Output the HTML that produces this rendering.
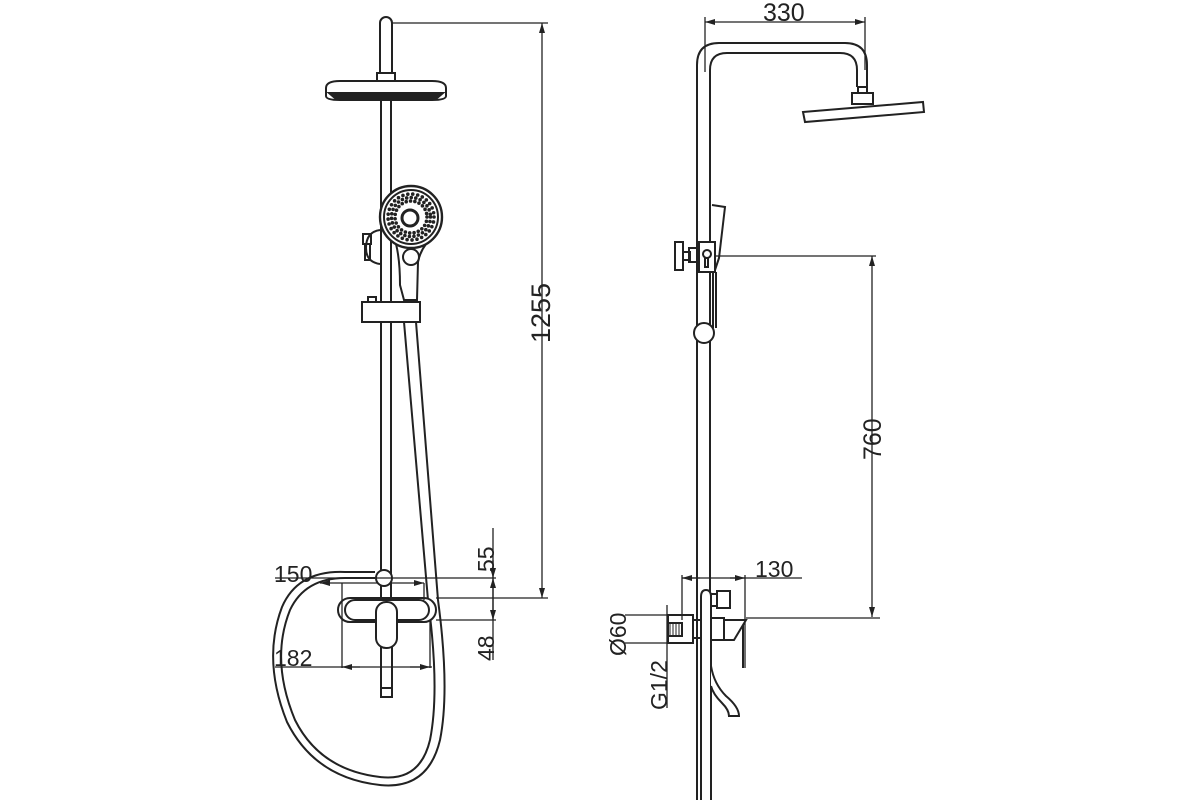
<!DOCTYPE html>
<html><head><style>
html,body{margin:0;padding:0;background:#fff;}
svg{display:block;}
text{font-family:"Liberation Sans",Arial,sans-serif;fill:#222;}
</style></head><body>
<svg width="1200" height="800" viewBox="0 0 1200 800" xmlns="http://www.w3.org/2000/svg">
<defs>
<marker id="a" viewBox="0 0 10 6" refX="10" refY="3" markerWidth="10" markerHeight="6" orient="auto-start-reverse" markerUnits="userSpaceOnUse"><path d="M0,0 L10,3 L0,6 z" fill="#222"/></marker>
</defs>
<g fill="none" stroke="#222" stroke-width="2">
<path d="M380,72 V23 a6,6 0 0 1 12,0 V72" fill="#fff"/>
<rect x="377" y="73" width="18" height="8" fill="#fff"/>
<path d="M326,88 Q326,81 340,81 H432 Q446,81 446,88 V96 Q446,100 432,100 H340 Q326,100 326,96 Z" fill="#fff"/>
<path d="M329,93 H443 L436,99 H336 Z" fill="#222"/>
<line x1="381" y1="100" x2="381" y2="648"/>
<line x1="391" y1="100" x2="391" y2="648"/>
<path d="M380,230 q-14,2 -14,18 q0,14 14,16"/>
<rect x="363" y="234" width="8" height="10"/>
<rect x="365" y="244" width="5" height="16"/>
<path d="M396,244 Q400,260 400,285 L404,300 H417 L418,262 Q420,252 426,244" fill="#fff"/>
<circle cx="411" cy="257" r="8" fill="#fff"/>
<circle cx="411" cy="217" r="31" fill="#fff" stroke-width="2.4"/>
<circle cx="411" cy="217" r="27"/>
<g stroke-width="3.6" stroke-linecap="round">
<circle cx="411" cy="217" r="23" stroke-dasharray="0 5"/>
<circle cx="411" cy="217" r="19.5" stroke-dasharray="0 4.6"/>
<circle cx="411" cy="217" r="16" stroke-dasharray="0 4.4"/>
</g>
<circle cx="410" cy="218" r="8" stroke-width="3"/>
<rect x="362" y="302" width="58" height="20" fill="#fff"/>
<rect x="368" y="297" width="8" height="5"/>
<path d="M404,322 L428,600 Q440,690 430,740 Q420,782 380,777 Q320,770 295,720 Q270,660 290,610 Q305,578 345,578 H375"/>
<path d="M416,322 L438,600 Q450,690 440,740 Q428,790 380,785 Q315,778 287,722 Q262,660 282,607 Q298,570 345,572 H375"/>
<circle cx="384" cy="578" r="8" fill="#fff"/>
<rect x="338" y="598" width="98" height="24" rx="12" fill="#fff"/>
<rect x="345" y="600" width="84" height="20" rx="10"/>
<rect x="381" y="640" width="11" height="57" fill="#fff"/>
<line x1="381" y1="688" x2="392" y2="688"/>
<rect x="376" y="602" width="21" height="46" rx="10" fill="#fff"/>
<g stroke-width="1.3">
<line x1="392" y1="23" x2="548" y2="23"/>
<line x1="542" y1="23" x2="542" y2="598" marker-start="url(#a)" marker-end="url(#a)"/>
<line x1="436" y1="598" x2="548" y2="598"/>
<line x1="275" y1="578" x2="496" y2="578"/>
<line x1="320" y1="583" x2="378" y2="583" marker-start="url(#a)"/>
<line x1="390" y1="583" x2="424" y2="583" marker-end="url(#a)"/>
<line x1="342" y1="583" x2="342" y2="668"/>
<line x1="424" y1="583" x2="424" y2="600"/>
<line x1="430" y1="620" x2="430" y2="668"/>
<line x1="436" y1="620" x2="496" y2="620"/>
<line x1="493" y1="528" x2="493" y2="660"/>
<line x1="493" y1="560" x2="493" y2="578" marker-end="url(#a)"/>
<line x1="493" y1="598" x2="493" y2="578" marker-end="url(#a)"/>
<line x1="493" y1="598" x2="493" y2="620" marker-end="url(#a)"/>
<line x1="275" y1="667" x2="432" y2="667"/>
<line x1="360" y1="667" x2="342" y2="667" marker-end="url(#a)"/>
<line x1="410" y1="667" x2="430" y2="667" marker-end="url(#a)"/>
</g>
<path d="M697,800 V65 Q697,43 719,43 H845 Q867,43 867,65 V87"/>
<path d="M710,800 V70 Q710,53 727,53 H840 Q857,53 857,70 V87"/>
<rect x="858" y="87" width="9" height="6"/>
<rect x="852" y="93" width="21" height="11" fill="#fff"/>
<path d="M803,112 L923,102 L924,112 L805,122 Z" fill="#fff"/>
<path d="M712,205 L725,207 L719,258 L715,270" fill="#fff"/>
<rect x="699" y="242" width="16" height="30" fill="#fff"/>
<circle cx="707" cy="254" r="4"/>
<rect x="705" y="258" width="3" height="9"/>
<rect x="689" y="248" width="10" height="14"/>
<rect x="682" y="252" width="8" height="8"/>
<rect x="675" y="242" width="8" height="28" fill="#fff"/>
<line x1="713" y1="272" x2="713" y2="328"/><line x1="716" y1="272" x2="716" y2="328"/>
<circle cx="704" cy="333" r="10" fill="#fff"/>
<path d="M701,800 V597 q0,-7 5,-7 q5,0 5,7 V800" fill="#fff"/>
<rect x="711" y="594" width="6" height="12"/>
<rect x="717" y="591" width="13" height="17" fill="#fff"/>
<rect x="668" y="615" width="25" height="28" fill="#fff"/>
<rect x="668" y="623" width="14" height="13"/>
<g stroke-width="1"><line x1="670" y1="624" x2="670" y2="635"/><line x1="673" y1="624" x2="673" y2="635"/><line x1="676" y1="624" x2="676" y2="635"/><line x1="679" y1="624" x2="679" y2="635"/></g>
<rect x="693" y="620" width="8" height="18"/>
<rect x="711" y="618" width="13" height="22"/>
<path d="M724,620 H746 L734,640 H724"/>
<line x1="743" y1="625" x2="743" y2="668"/>
<path d="M711,666 Q714,684 726,696 Q739,707 739,716 H729 Q729,710 722,703 Q713,694 711,686" fill="#fff"/>
<g stroke-width="1.3">
<line x1="705" y1="17" x2="705" y2="72"/>
<line x1="865" y1="17" x2="865" y2="70"/>
<line x1="705" y1="22" x2="865" y2="22" marker-start="url(#a)" marker-end="url(#a)"/>
<line x1="716" y1="256" x2="876" y2="256"/>
<line x1="872" y1="256" x2="872" y2="617" marker-start="url(#a)" marker-end="url(#a)"/>
<line x1="746" y1="618" x2="880" y2="618"/>
<line x1="682" y1="578" x2="802" y2="578"/>
<line x1="700" y1="578" x2="682" y2="578" marker-end="url(#a)"/>
<line x1="730" y1="578" x2="745" y2="578" marker-end="url(#a)"/>
<line x1="682" y1="575" x2="682" y2="620"/>
<line x1="745" y1="575" x2="745" y2="668"/>
<line x1="625" y1="615" x2="668" y2="615"/>
<line x1="625" y1="643" x2="668" y2="643"/>
<line x1="667" y1="605" x2="667" y2="708"/>
</g>
</g>
<text font-size="27" transform="translate(550,343) rotate(-90)">1255</text>
<text x="274" y="582" font-size="23">150</text>
<text x="274" y="666" font-size="23">182</text>
<text font-size="23" transform="translate(494,572) rotate(-90)">55</text>
<text font-size="23" transform="translate(494,661) rotate(-90)">48</text>
<text x="763" y="21" font-size="25">330</text>
<text font-size="25" transform="translate(881,460) rotate(-90)">760</text>
<text x="755" y="577" font-size="23">130</text>
<text font-size="23" transform="translate(626,656) rotate(-90)">Ø60</text>
<text font-size="23" transform="translate(667,710) rotate(-90)">G1/2</text>
</svg>
</body></html>
